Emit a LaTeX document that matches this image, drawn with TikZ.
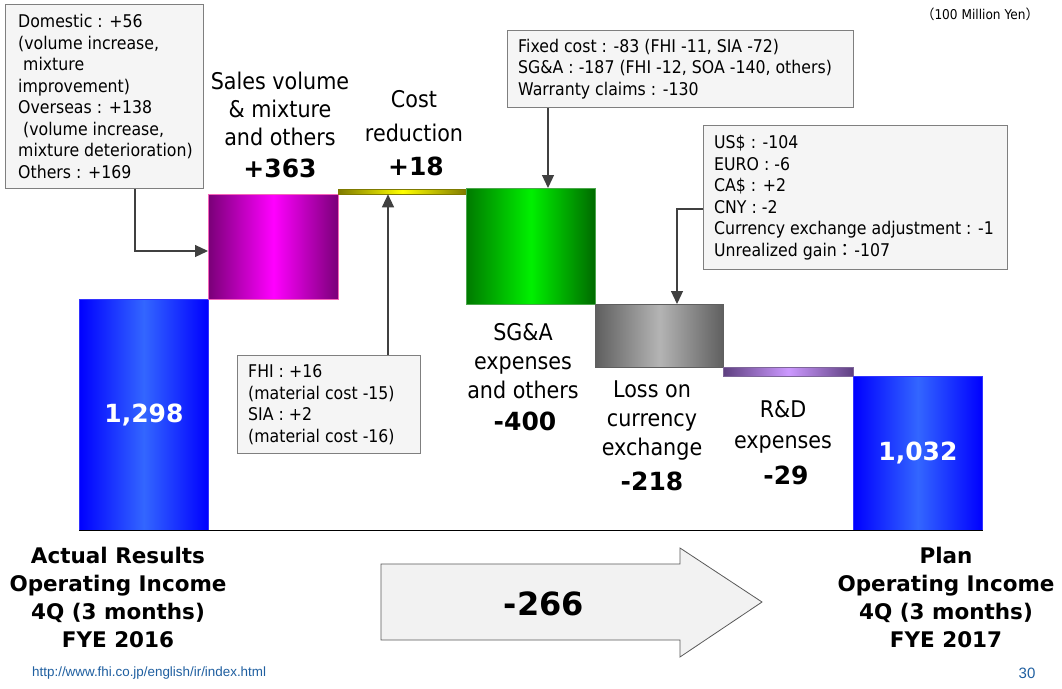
\documentclass[tikz,border=0pt]{standalone}
\usepackage{fontspec}
\setmainfont[FakeStretch=0.9]{DejaVu Sans}
\newfontfamily\wideff{DejaVu Sans}
\newfontfamily\arialf{Liberation Sans}
\newfontfamily\cjk{Noto Sans CJK JP}
\usetikzlibrary{arrows.meta}
\definecolor{boxfill}{HTML}{F5F5F5}
\definecolor{boxline}{HTML}{7F7F7F}
\definecolor{connc}{HTML}{404040}
\definecolor{blueE}{HTML}{0000FF}
\definecolor{blueM}{HTML}{3366FF}
\definecolor{magE}{HTML}{7A0078}
\definecolor{magM}{HTML}{FF00FF}
\definecolor{yelE}{HTML}{7F7A00}
\definecolor{yelM}{HTML}{FFFF00}
\definecolor{grnL}{HTML}{007A00}
\definecolor{grnM}{HTML}{00F000}
\definecolor{grnR}{HTML}{006A00}
\definecolor{gryE}{HTML}{5F5F5F}
\definecolor{gryM}{HTML}{B4B4B4}
\definecolor{purE}{HTML}{5E4080}
\definecolor{purM}{HTML}{CC99FF}
\definecolor{urlc}{HTML}{1F5FA0}
\definecolor{arrfill}{HTML}{F2F2F2}
\definecolor{arrline}{HTML}{595959}
\tikzset{
  bar/.style={draw, line width=0.8pt, inner sep=0pt, anchor=north west},
  callout/.style={draw=boxline, fill=boxfill, line width=1pt, inner sep=0pt, anchor=north west},
  calltext/.style={anchor=west, align=left, inner sep=0pt, font=\fontsize{17.5}{21.5}\selectfont},
  lab/.style={align=center, inner sep=0pt, font=\fontsize{23}{28}\selectfont},
  num/.style={inner sep=0pt, font=\wideff\bfseries\fontsize{25}{30}\selectfont},
  bottomlab/.style={align=center, inner sep=0pt, font=\wideff\bfseries\fontsize{21.5}{28}\selectfont},
  conn/.style={draw=connc, line width=1.2pt, -{Triangle[length=13pt,width=12pt]}},
}
\begin{document}
\begin{tikzpicture}[x=1pt,y=-1pt]
\useasboundingbox[fill=white] (0,0) rectangle (1062,688);

% bars
\node[bar, draw=blue!80, left color=blueE, right color=blueE, middle color=blueM,
      minimum width=129, minimum height=231, text=white, font=\wideff\bfseries\fontsize{25}{30}\selectfont]
      (b1) at (79,299) {1,298};
\node[bar, draw=magenta!60, left color=magE, right color=magE, middle color=magM,
      minimum width=130, minimum height=105] (mag) at (208,194) {};
\node[bar, draw=yelE, left color=yelE, right color=yelE, middle color=yelM,
      minimum width=128, minimum height=4.5] (yel) at (338,189) {};
\node[bar, draw=green!50!black!70, left color=grnL, right color=grnR, middle color=grnM,
      minimum width=129, minimum height=116] (grn) at (466,188) {};
\node[bar, draw=gryE, left color=gryE, right color=gryE, middle color=gryM,
      minimum width=128, minimum height=63] (gry) at (595,304) {};
\node[bar, draw=purE!80, left color=purE, right color=purE, middle color=purM,
      minimum width=130, minimum height=9] (pur) at (723,367) {};
\node[bar, draw=blue!80, left color=blueE, right color=blueE, middle color=blueM,
      minimum width=129, minimum height=154, text=white, font=\wideff\bfseries\fontsize{25}{30}\selectfont]
      (b2) at (853,376) {1,032};

% baseline
\draw[line width=1pt, black] (b1.south west) -- (b2.south east);

% bar labels
\node[lab] (salesT) at (280,109) {Sales volume\\\& mixture\\and others};
\node[num] (salesN) at (280,168) {+363};
\node[lab, font=\fontsize{23}{34}\selectfont] (costT) at (414,116) {Cost\\reduction};
\node[num] (costN) at (416,166) {+18};
\node[lab, font=\fontsize{23}{29}\selectfont] (sgaT) at (523,361) {SG\&A\\expenses\\and others};
\node[num] (sgaN) at (525,421) {-400};
\node[lab, font=\fontsize{23}{29}\selectfont] (lossT) at (652,421) {Loss on\\currency\\exchange};
\node[num] (lossN) at (652,481) {-218};
\node[lab, font=\fontsize{23}{31}\selectfont] (rdT) at (783,427) {R\&D\\expenses};
\node[num] (rdN) at (786,475) {-29};

% callout boxes
\node[callout, minimum width=198, minimum height=184] (box1) at (5,4) {};
\node[calltext] (box1t) at ([xshift=13pt]box1.west) {Domestic : +56\\(volume increase,\\\ mixture\\improvement)\\Overseas : +138\\\ (volume increase,\\mixture deterioration)\\Others : +169};

\node[callout, minimum width=183, minimum height=98] (box2) at (237,355) {};
\node[calltext] (box2t) at ([xshift=11pt]box2.west) {FHI : +16\\(material cost -15)\\SIA : +2\\(material cost -16)};

\node[callout, minimum width=346, minimum height=77] (box3) at (507,30) {};
\node[calltext] (box3t) at ([xshift=11pt]box3.west) {Fixed cost : -83 (FHI -11, SIA -72)\\SG\&A : -187 (FHI -12, SOA -140, others)\\Warranty claims : -130};

\node[callout, minimum width=304, minimum height=144] (box4) at (703,125) {};
\node[calltext] (box4t) at ([xshift=11pt]box4.west) {US\$ : -104\\EURO : -6\\CA\$ : +2\\CNY : -2\\Currency exchange adjustment : -1\\Unrealized gain{\cjk ：}-107};

% connectors
\coordinate (k1) at (135,251);
\draw[conn] (k1 |- box1.south) -- (k1) -- (mag.west |- k1);
\coordinate (k2) at (388,300);
\draw[conn] (k2 |- box2.north) -- (k2 |- yel.south);
\coordinate (k3) at (548,150);
\draw[conn] (k3 |- box3.south) -- (k3 |- grn.north);
\coordinate (k4) at (677,209);
\draw[conn] (box4.west |- k4) -- (k4) -- (k4 |- gry.north);

% big arrow
\draw[fill=arrfill, draw=arrline, line width=0.8pt]
  (381,564) -- (680,564) -- (680,548) -- (762,602) -- (680,657) -- (680,640) -- (381,640) -- cycle;
\node[inner sep=0pt, font=\wideff\bfseries\fontsize{32}{36}\selectfont] (total) at (544,604) {-266};

% bottom labels
\node[bottomlab] (leftL) at (118,597) {Actual Results\\Operating Income\\4Q (3 months)\\FYE 2016};
\node[bottomlab] (rightL) at (946,597) {Plan\\Operating Income\\4Q (3 months)\\FYE 2017};

% unit, footer
\node[inner sep=0pt, font=\fontsize{13.5}{15}\selectfont] (unit) at (980,14) {{\cjk （}100 Million Yen{\cjk ）}};
\node[anchor=west, inner sep=0pt, text=urlc, font=\arialf\fontsize{13.4}{15}\selectfont] (url) at (32,673) {http://www.fhi.co.jp/english/ir/index.html};
\node[inner sep=0pt, text=urlc, font=\arialf\fontsize{15}{17}\selectfont] (page) at (1027,673) {30};
\end{tikzpicture}
\end{document}
